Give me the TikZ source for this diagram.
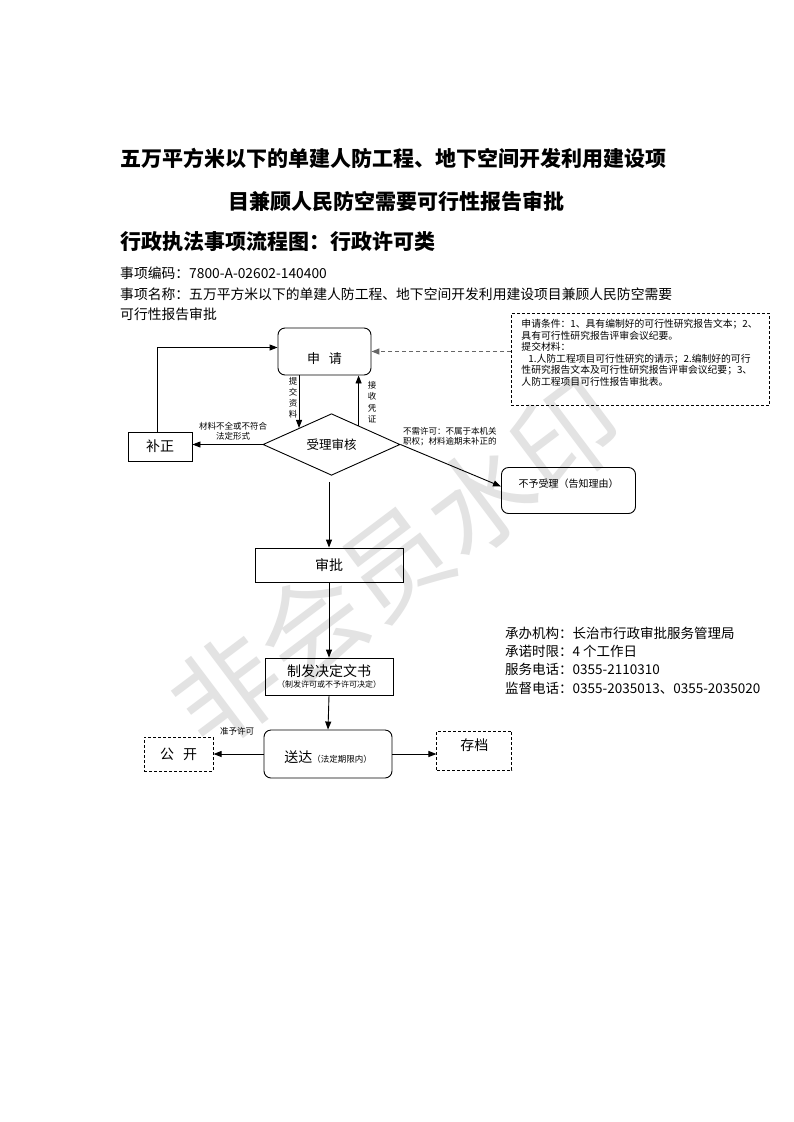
\documentclass[tikz,border=0pt]{standalone}
\usepackage{fontspec}
\setmainfont{Noto Sans CJK SC}
\usepackage{tikz}
\usetikzlibrary{arrows.meta}
\usetikzlibrary{positioning, shapes.geometric}

\newcommand{\sz}[1]{\fontsize{#1}{#1}\selectfont}

\tikzset{
  box/.style={draw, line width=0.9pt, inner sep=0pt, align=center},
  rbox/.style={box, rounded corners=7pt},
  dbox/.style={draw, line width=0.9pt, inner sep=0pt, dash pattern=on 3pt off 2pt},
  arr/.style={line width=0.9pt, -{Triangle[length=8pt,width=6pt]}},
  dasharr/.style={arr, draw=black!60, line width=1.4pt, dash pattern=on 4pt off 3pt},
  lbl/.style={inner sep=0pt, font=\fontsize{8.5}{10.5}\selectfont},
  head/.style={anchor=west, inner sep=0pt},
}

\begin{document}
\begin{tikzpicture}[x=1pt, y=-1pt]
  \path[use as bounding box, fill=white] (0,0) rectangle (793,1122);
  % watermark
  \node[rotate=37, text=black!11, font=\sz{106}] (mark) at (396,563) {非会员水印};

  % headings
  \node[head, font=\bfseries\sz{21}] (title1) at (120,158) {五万平方米以下的单建人防工程、地下空间开发利用建设项};
  \node[head, font=\bfseries\sz{21}] (title2) at (228,201) {目兼顾人民防空需要可行性报告审批};
  \node[head, font=\bfseries\sz{21}] (kind) at (120,242) {行政执法事项流程图：行政许可类};
  \node[head, font=\sz{13.8}] (code) at (120,273) {事项编码：7800-A-02602-140400};
  \node[head, font=\sz{13.8}] (name1) at (120,294) {事项名称：五万平方米以下的单建人防工程、地下空间开发利用建设项目兼顾人民防空需要};
  \node[head, font=\sz{13.8}] (name2) at (120,314) {可行性报告审批};

  % flow
  \node[rbox, minimum width=93pt, minimum height=47pt, text height=23pt, text depth=0pt, font=\sz{13}] (shenqing) at (324.5,351.5) {申\hspace{9pt}请};
  \node[box, minimum width=64pt, minimum height=29pt, font=\sz{14}] (buzheng) at (160,446.5) {补正};
  \node[diamond, draw, line width=0.9pt, inner sep=0pt, minimum width=137pt, minimum height=53pt, font=\sz{12.5}] (shouli) at (331.5,444.5) {受理审核};
  \node[rbox, minimum width=134pt, minimum height=46pt, text height=9pt, text depth=15pt, font=\sz{10}] (buyu) at (568.5,490.5) {不予受理（告知理由）};
  \node[box, minimum width=148pt, minimum height=34pt, font=\sz{14}] (shenpi) at (329,565) {审批};
  \node[box, minimum width=128pt, minimum height=37pt] (zhifa) at (329,676.5) {\sz{14}制发决定文书\\[-1pt]\fontsize{8}{12}\selectfont（制发许可或不予许可决定）};
  \node[rbox, minimum width=128pt, minimum height=48pt, text height=17pt, text depth=0pt] (songda) at (328,754) {\sz{14}送达\sz{8.5}（法定期限内）};
  \node[dbox, minimum width=69pt, minimum height=34pt, font=\sz{14}, left=50pt of songda] (gongkai) {公\hspace{9pt}开};
  \node[dbox, minimum width=75pt, minimum height=39pt, text height=12pt, text depth=12pt, font=\sz{14}, right=44pt of songda, yshift=3.5pt] (cundang) {存档};

  % conditions box
  \node[dbox, anchor=north west, text width=238pt, align=left, inner xsep=10pt, inner ysep=6pt, text depth=72pt, font=\fontsize{9.8}{11.5}\selectfont] (note) at (511,313)
    {申请条件：1、具有编制好的可行性研究报告文本；2、\\具有可行性研究报告评审会议纪要。\\提交材料：\\\hspace*{7pt}1.人防工程项目可行性研究的请示；2.编制好的可行\\性研究报告文本及可行性研究报告评审会议纪要；3、\\人防工程项目可行性报告审批表。};

  % office info
  \node[head, font=\sz{13.5}] (office) at (505,633) {承办机构：长治市行政审批服务管理局};
  \node[head, font=\sz{13.5}] (limit) at (505,651) {承诺时限：4 个工作日};
  \node[head, font=\sz{13.5}] (phone) at (505,669) {服务电话：0355-2110310};
  \node[head, font=\sz{13.5}] (super) at (505,688) {监督电话：0355-2035013、0355-2035020};

  % labels
  \node[lbl, align=center, font=\fontsize{8.5}{11}\selectfont] (tijiao) at (293,398) {提\\交\\资\\料};
  \node[lbl, align=center, font=\fontsize{8.5}{11.5}\selectfont] (jieshou) at (372,402) {接\\收\\凭\\证};
  \node[lbl, align=center] (buquan) at (233,431) {材料不全或不符合\\法定形式};
  \node[lbl, align=left, anchor=west] (buxu) at (403,436.5) {不需许可：不属于本机关\\职权；材料逾期未补正的};
  \node[lbl] (zhunyu) at (237,731) {准予许可};

  % connectors
  \draw[arr] (shenqing.south -| shouli.153) -- (shouli.153);
  \draw[arr] (shouli.35) -- (shouli.35 |- shenqing.south);
  \draw[arr] ([xshift=-3pt]buzheng.north) |- ([yshift=4pt]shenqing.west);
  \draw[arr] (shouli.west) -- (shouli.west -| buzheng.east);
  \draw[arr] (shouli.east) -- ([yshift=4pt]buyu.west);
  \draw[dasharr] (note.west |- shenqing.east) -- (shenqing.east);
  \draw[arr] ([yshift=-6pt]shouli.south -| shenpi.north) -- (shenpi.north);
  \draw[arr] (shenpi.south) -- (zhifa.north);
  \draw[arr] (zhifa.south) -- (songda.north);
  \draw[arr] (songda.west) -- (gongkai.east);
  \draw[arr] (songda.east) -- (songda.east -| cundang.west);
\end{tikzpicture}
\end{document}
